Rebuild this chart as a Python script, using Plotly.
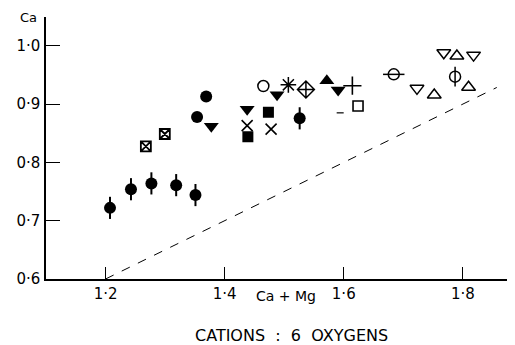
import plotly.graph_objects as go

# ---- data ----
fc_err_x = [1.2075, 1.2427, 1.277, 1.3186, 1.351, 1.526]
fc_err_y = [0.722, 0.754, 0.764, 0.761, 0.744, 0.8756]
fc_err_e = [0.019, 0.019, 0.019, 0.019, 0.019, 0.019]

fc_x = [1.369, 1.3537]
fc_y = [0.913, 0.878]

bx_x = [1.2677, 1.2995]
bx_y = [0.8276, 0.8487]

fdt_x = [1.3776, 1.4378, 1.488, 1.5906]
fdt_y = [0.862, 0.891, 0.916, 0.924]

xm_x = [1.4378, 1.478]
xm_y = [0.863, 0.857]

fsq_x = [1.439, 1.4735]
fsq_y = [0.844, 0.886]

oc_x = [1.465]
oc_y = [0.931]

ast_x = [1.507]
ast_y = [0.933]

dc_x = [1.5365]
dc_y = [0.925]

fut_x = [1.5716]
fut_y = [0.940]

pl_x = [1.6145]
pl_y = [0.9316]

dash_x = [1.594]
dash_y = [0.885]

osq_x = [1.624]
osq_y = [0.8968]

och_x = [1.684]
och_y = [0.951]
och_e = [0.018]

odt_x = [1.723, 1.768, 1.818]
odt_y = [0.927, 0.988, 0.984]

out_x = [1.752, 1.790, 1.8096]
out_y = [0.9156, 0.9825, 0.929]

ocv_x = [1.787]
ocv_y = [0.947]
ocv_e = [0.017]

line_x = [1.2, 1.857]
line_y = [0.6, 0.9285]

x_tickvals = [1.2, 1.4, 1.6, 1.8]
x_ticktext = ["1·2", "1·4", "1·6", "1·8"]
y_tickvals = [0.6, 0.7, 0.8, 0.9, 1.0]
y_ticktext = ["0·6", "0·7", "0·8", "0·9", "1·0"]

BLACK = "black"
fig = go.Figure()

fig.add_trace(go.Scatter(x=line_x, y=line_y, mode="lines",
                         line=dict(color=BLACK, width=1, dash="dash")))

def add(x, y, symbol, size=11, lw=1.6, **kw):
    fig.add_trace(go.Scatter(x=x, y=y, mode="markers",
                             marker=dict(symbol=symbol, size=size, color=BLACK,
                                         line=dict(color=BLACK, width=lw)),
                             **kw))

add(fc_err_x, fc_err_y, "circle", size=12, lw=0,
    error_y=dict(type="data", array=fc_err_e, width=0, thickness=2, color=BLACK))
add(fc_x, fc_y, "circle", size=12, lw=0)
add(bx_x, bx_y, "square-x-open", size=10, lw=1.8)
add(fdt_x, fdt_y, "triangle-down", size=13, lw=0)
add(xm_x, xm_y, "x-thin-open", size=11, lw=1.6)
add(fsq_x, fsq_y, "square", size=11, lw=0)
add(oc_x, oc_y, "circle-open", size=11, lw=1.5)
add(ast_x, ast_y, "asterisk-open", size=13, lw=1.5)
add(dc_x, dc_y, "diamond-cross-open", size=13, lw=1.5)
add(fut_x, fut_y, "triangle-up", size=13, lw=0)
add(pl_x, pl_y, "cross-thin-open", size=13, lw=1.6)
add(dash_x, dash_y, "line-ew-open", size=5, lw=1.2)
add(osq_x, osq_y, "square-open", size=10, lw=1.6)
add(och_x, och_y, "circle-open", size=11, lw=1.5,
    error_x=dict(type="data", array=och_e, width=0, thickness=1.5, color=BLACK))
add(odt_x, odt_y, "triangle-down-open", size=12, lw=1.5)
add(out_x, out_y, "triangle-up-open", size=12, lw=1.5)
add(ocv_x, ocv_y, "circle-open", size=11, lw=1.5,
    error_y=dict(type="data", array=ocv_e, width=0, thickness=1.5, color=BLACK))

FONT = "DejaVu Sans"

# the page body adds an 8px offset, so margins are reduced by 8 on left/top
fig.update_layout(
    width=515, height=345,
    margin=dict(l=36, r=8, t=9, b=74),
    paper_bgcolor="white", plot_bgcolor="white",
    showlegend=False,
    font=dict(family=FONT, size=14, color=BLACK),
    xaxis=dict(range=[1.1, 1.8876], tickvals=x_tickvals, ticktext=x_ticktext,
               ticks="inside", ticklen=12, tickwidth=1.3, tickcolor=BLACK,
               showline=True, linecolor=BLACK, linewidth=1.5,
               showgrid=False, zeroline=False,
               tickfont=dict(family=FONT, size=15)),
    yaxis=dict(range=[0.6, 1.0494], tickvals=y_tickvals, ticktext=y_ticktext,
               ticks="inside", ticklen=14, tickwidth=1.3, tickcolor=BLACK,
               showline=True, linecolor=BLACK, linewidth=1.5,
               showgrid=False, zeroline=False, ticklabelstandoff=1,
               tickfont=dict(family=FONT, size=15)),
    annotations=[
        dict(text="Ca", xref="paper", yref="paper", x=-0.038, y=0.997,
             xanchor="center", yanchor="middle", showarrow=False,
             font=dict(family=FONT, size=13)),
        dict(text="Ca + Mg", xref="paper", yref="paper", x=0.512, y=-0.065,
             xanchor="center", yanchor="middle", showarrow=False,
             font=dict(family=FONT, size=14)),
        dict(text="CATIONS  :  6  OXYGENS", xref="paper", yref="paper",
             x=0.524, y=-0.214, xanchor="center", yanchor="middle",
             borderpad=0, showarrow=False, font=dict(family=FONT, size=16)),
    ],
)

fig.write_html("out.html")
